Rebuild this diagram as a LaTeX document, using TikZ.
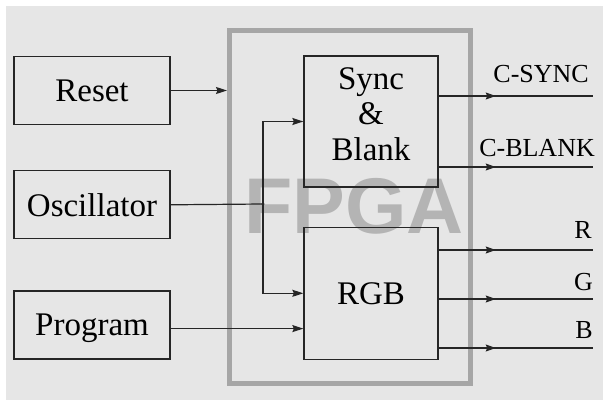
\documentclass[tikz,border=0pt]{standalone}
\usepackage{fontspec}
\setmainfont{Liberation Serif}
\newfontfamily\labelfont{Liberation Serif}
\newfontfamily\markfont{Liberation Sans}
\usepackage{tikz}
\usetikzlibrary{arrows.meta,positioning,decorations.markings}
\definecolor{PanelGray}{HTML}{E6E6E6}
\definecolor{FrameGray}{HTML}{A6A6A6}
\definecolor{MarkGray}{HTML}{B4B4B4}
\definecolor{LineDark}{HTML}{262626}
\tikzset{
  blockbox/.style={draw=LineDark,line width=1.3pt,minimum width=156pt,minimum height=68pt,inner sep=0pt,font=\labelfont\fontsize{33}{35.5}\selectfont},
  corebox/.style={blockbox,minimum width=134pt,minimum height=131pt,align=center},
  sigarrow/.style={-{Stealth[length=11pt,width=7pt,inset=1.5pt]},line width=1.2pt,draw=LineDark},
  sigline/.style={line width=1.2pt,draw=LineDark},
  outline/.style={sigline,color=LineDark,postaction={decorate},decoration={markings,mark=at position 0.37 with {\arrow{Stealth[length=10pt,width=7pt,inset=1.5pt]}}}},
  outlabel/.style={anchor=base east,inner sep=0pt,font=\labelfont\fontsize{26}{28}\selectfont},
  fpgaframe/.style={draw=FrameGray,line width=5pt}
}
\begin{document}
\begin{tikzpicture}[x=1pt,y=-1pt]
\useasboundingbox (0,0) rectangle (603,401);
\fill[white] (0,0) rectangle (603,401);
\fill[PanelGray] (6,6) rectangle (603,400);

% FPGA frame and watermark
\node[font=\markfont\bfseries\fontsize{79}{80}\selectfont,text=MarkGray,inner sep=0pt] (mark) at (354,206.5) {FPGA};
\draw[fpgaframe] (229.5,30.5) rectangle (470.5,383);

% input blocks
\node[blockbox] (reset) at (92,90.5) {Reset};
\node[blockbox,below=45pt of reset] (osc) {Oscillator};
\node[blockbox,below=51pt of osc,text depth=0pt] (prog) {Program};

% blocks inside the FPGA
\node[corebox,text depth=15pt] (sync) at (371,121.5) {Sync\\\&\\Blank};
\node[corebox,minimum height=132pt,below=39pt of sync] (rgb) {RGB};

% inputs
\coordinate (rstin) at (227,90.5);
\draw[sigarrow] (reset) -- (rstin);
\coordinate (jn) at (263,204);
\draw[sigline] (osc.east) -- (jn);
\fill[LineDark] (jn) circle (1.6pt);
\draw[sigarrow] (jn) |- (sync.west);
\draw[sigarrow] (jn) |- (rgb.west);
\draw[sigarrow] ([yshift=-3.5pt]prog.east) -- ([yshift=-3.5pt]prog.east -| rgb.west);

% outputs
\coordinate (csync) at (593,96);
\draw[outline] (sync.east |- csync) -- (csync);
\node[outlabel] (csynclab) at (589,83) {C-SYNC};
\coordinate (cblank) at (593,167);
\draw[outline] (sync.east |- cblank) -- (cblank);
\node[outlabel] (cblanklab) at (595,157) {C-BLANK};
\coordinate (outr) at (593,250);
\draw[outline] (rgb.east |- outr) -- (outr);
\node[outlabel] (rlab) at (592,238) {R};
\coordinate (outg) at (593,299);
\draw[outline] (rgb.east |- outg) -- (outg);
\node[outlabel] (glab) at (593,290) {G};
\coordinate (outb) at (593,348);
\draw[outline] (rgb.east |- outb) -- (outb);
\node[outlabel] (blab) at (593,338) {B};
\end{tikzpicture}
\end{document}
